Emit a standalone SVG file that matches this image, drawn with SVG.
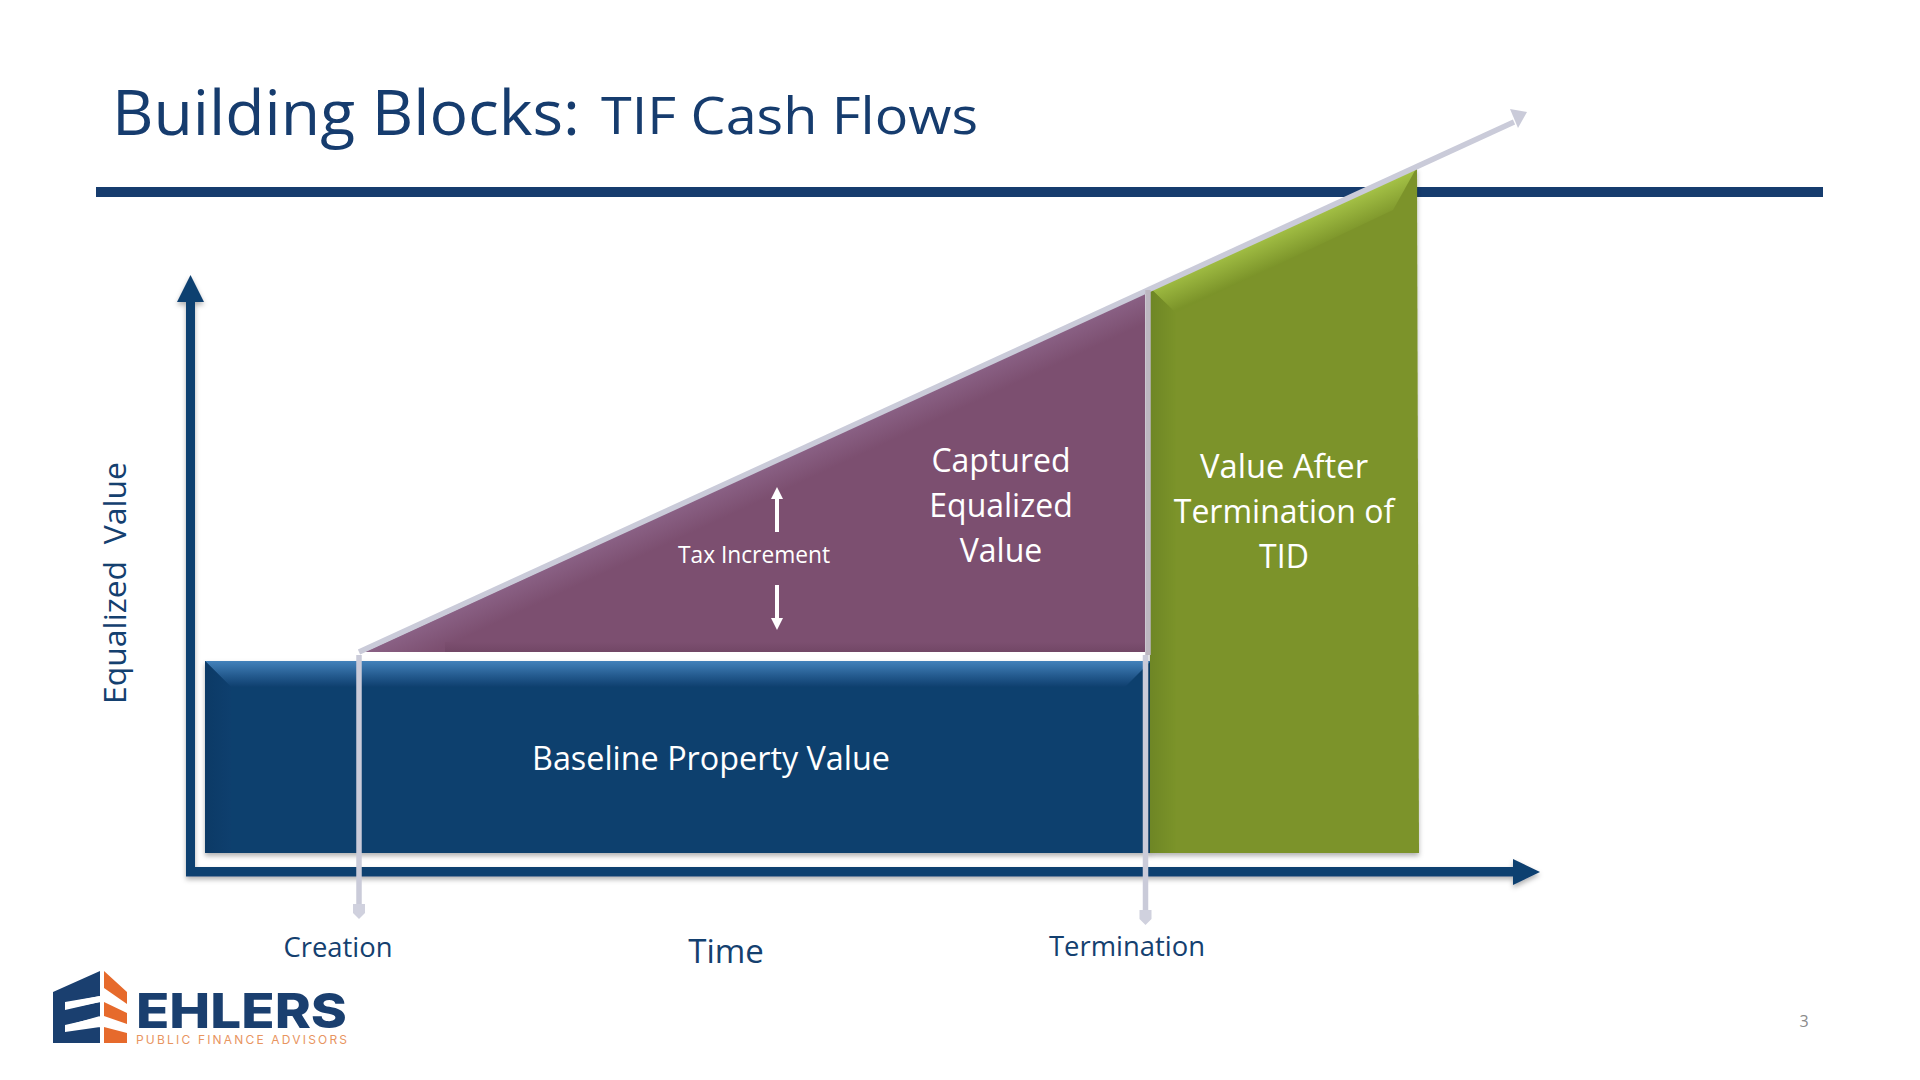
<svg xmlns="http://www.w3.org/2000/svg" width="1920" height="1080" viewBox="0 0 1920 1080">
<style>
text{font-family:"Open Sans","Noto Sans","Liberation Sans",sans-serif}
.w{fill:#fff;text-anchor:middle}
.n{fill:#14406f;text-anchor:middle}
.trend{stroke:#cacbd9;stroke-width:5.500;fill:none}
</style>
<defs>
<filter id="sh" x="-5%" y="-5%" width="110%" height="112%"><feDropShadow dx="0" dy="3" stdDeviation="2.500" flood-color="#000" flood-opacity=".3"/></filter>
<filter id="lsh" filterUnits="userSpaceOnUse" x="300" y="80" width="1260" height="860"><feGaussianBlur stdDeviation=".6"/></filter>
<linearGradient id="bt" gradientUnits="userSpaceOnUse" x1="0" y1="661" x2="0" y2="687"><stop offset="0" stop-color="#4382bb"/><stop offset=".6" stop-color="#22588c"/><stop offset="1" stop-color="#0e3f6e"/></linearGradient>
<linearGradient id="bl" x1="0" y1="0" x2="1" y2="0"><stop offset="0" stop-color="#0c3a66"/><stop offset="1" stop-color="#0e3f6e"/></linearGradient>
<linearGradient id="gt" gradientUnits="userSpaceOnUse" x1="1283" y1="228" x2="1296" y2="258"><stop offset="0" stop-color="#a4c146"/><stop offset="1" stop-color="#7b9329"/></linearGradient>
<linearGradient id="gl" x1="0" y1="0" x2="1" y2="0"><stop offset="0" stop-color="#6e8625"/><stop offset="1" stop-color="#7b9329"/></linearGradient>
<linearGradient id="pt" gradientUnits="userSpaceOnUse" x1="755" y1="472" x2="767" y2="498"><stop offset="0" stop-color="#8a6185"/><stop offset="1" stop-color="#7c4f70"/></linearGradient>
<linearGradient id="pb" x1="0" y1="0" x2="0" y2="1"><stop offset="0" stop-color="#7c4f70"/><stop offset="1" stop-color="#724766"/></linearGradient>
</defs>
<rect width="1920" height="1080" fill="#fff"/>
<g id="title">
<text x="112" y="135" font-size="62" fill="#163c6e" textLength="468" lengthAdjust="spacingAndGlyphs">Building Blocks:</text>
<text x="601" y="134" font-size="52" fill="#163c6e" textLength="377" lengthAdjust="spacingAndGlyphs">TIF Cash Flows</text>
</g>
<rect id="header-rule" x="96" y="187" width="1727" height="10" fill="#163c6e"/>
<g id="axes" filter="url(#sh)">
<path d="M186 300H195V867H1513V859L1540 872 1513 885V876.500H186Z" fill="#0f3f70"/>
<path d="M190.500 275L177 302H204Z" fill="#0f3f70"/>
</g>
<g id="baseline-box">
<rect x="205" y="661" width="946" height="192" fill="#0e3f6e" filter="url(#sh)"/>
<path d="M205 661H1151L1125 687H231Z" fill="url(#bt)"/>
<path d="M205 661L231 687V853H205Z" fill="url(#bl)"/>
<text class="w" x="711" y="770" font-size="32" textLength="358" lengthAdjust="spacingAndGlyphs">Baseline Property Value</text>
</g>
<g id="captured-box">
<path d="M365 652L1145 293V652Z" fill="#7c4f70"/>
<path d="M365 652L1145 293V330L445 652Z" fill="url(#pt)"/>
<rect x="445" y="642" width="700" height="10" fill="url(#pb)"/>
<text class="w" font-size="32"><tspan x="1001" y="472">Captured</tspan><tspan x="1001" y="517">Equalized</tspan><tspan x="1001" y="562">Value</tspan></text>
<text class="w" x="754" y="563" font-size="24" textLength="152" lengthAdjust="spacingAndGlyphs">Tax Increment</text>
<path d="M777 532V496" stroke="#fff" stroke-width="4"/><path d="M777 487L771 499H783Z" fill="#fff"/>
<path d="M777 585V620" stroke="#fff" stroke-width="4"/><path d="M777 630L771 618H783Z" fill="#fff"/>
</g>
<g id="after-box">
<path d="M1150 288L1417 167L1419 853H1150Z" fill="#7b9329" filter="url(#sh)"/>
<path d="M1150 288L1417 167L1393 210L1176 313Z" fill="url(#gt)"/>
<path d="M1150 288L1176 313V853H1150Z" fill="url(#gl)"/>
<text class="w" font-size="32"><tspan x="1284" y="478" textLength="168" lengthAdjust="spacingAndGlyphs">Value After</tspan><tspan x="1284" y="523">Termination of</tspan><tspan x="1284" y="568">TID</tspan></text>
</g>
<g id="connectors" filter="url(#lsh)">
<path class="trend" d="M359 652L1514 122"/>
<path d="M1527 112L1510 109 1518 128Z" fill="#cacbd9"/>
<path class="trend" d="M359 655V908"/>
<path d="M353 904H365V913L359 919 353 913Z" fill="#d0d1de"/>
<path class="trend" d="M1148 290V655" style="stroke:#bdb7c1"/>
<path class="trend" d="M1145.500 655V914"/>
<path d="M1139.500 910H1151.500V919L1145.500 925 1139.500 919Z" fill="#d0d1de"/>
</g>
<g id="labels">
<text class="n" transform="translate(126 704) rotate(-90)" style="text-anchor:start" font-size="31" xml:space="preserve" textLength="242" lengthAdjust="spacingAndGlyphs">Equalized  Value</text>
<text class="n" x="338" y="957" font-size="28" textLength="109" lengthAdjust="spacingAndGlyphs">Creation</text>
<text class="n" x="726" y="963" font-size="33">Time</text>
<text class="n" x="1127" y="956" font-size="28" textLength="156" lengthAdjust="spacingAndGlyphs">Termination</text>
<text x="1804" y="1027" font-size="16" fill="#8a8a8a" text-anchor="middle">3</text>
</g>
<g id="logo">
<path d="M53 992L100 971V1043H53ZM65 1003V1009L100 1002V996ZM65 1026V1032L100 1027V1016Z" fill="#1a3f6f" fill-rule="evenodd"/>
<path d="M65 1002L100 996V1002L65 1010ZM65 1025L100 1017V1022L65 1030Z" fill="#fff"/>
<path d="M104 971L127 992V1004L104 988ZM104 1002L127 1013V1024L104 1016ZM104 1027L127 1033V1043H104Z" fill="#e66a2c"/>
<text x="136" y="1028" font-size="48" font-weight="800" fill="#1a3f6f" textLength="211" lengthAdjust="spacingAndGlyphs" style="font-family:Inter,'Open Sans',sans-serif">EHLERS</text>
<text x="136" y="1044" font-size="12" fill="#e8955f" textLength="211" style="font-family:Inter,'Open Sans',sans-serif">PUBLIC FINANCE ADVISORS</text>
</g>
</svg>
